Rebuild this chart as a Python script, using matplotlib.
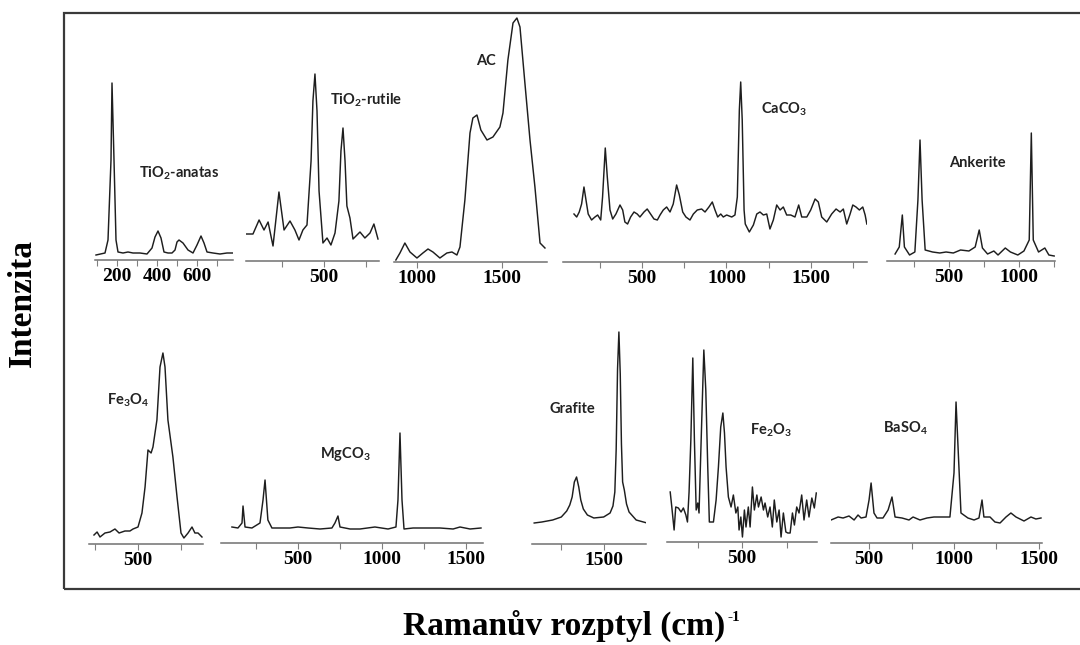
import numpy as np
import matplotlib
matplotlib.use("Agg")
import matplotlib.pyplot as plt
import matplotlib as mpl
from matplotlib.patches import Rectangle

mpl.rcParams['mathtext.fontset'] = 'custom'
mpl.rcParams['mathtext.rm'] = 'Lato:bold'
mpl.rcParams['mathtext.bf'] = 'Lato:bold'
mpl.rcParams['mathtext.default'] = 'rm'

# spectra: Raman shift (cm-1) and intensity (arb. units)
anatas_x = [95,140,155,170,175,185,195,205,230,255,280,315,350,375,390,405,420,435,455,475,490,500,510,530,555,580,600,620,635,650,680,715,750,780]
anatas_y = [5,7,20,100,177,100,20,8,7,8,7,7,6,12,23,29,22,8,7,7,10,18,20,17,10,7,15,24,17,8,7,6,7,7]

rutile_x = [41,82,118,147,171,200,235,265,300,329,353,376,400,424,435,447,459,471,494,518,541,565,588,600,612,624,635,653,671,712,741,771,794,818]
rutile_y = [27,27,41,31,39,15,69,31,40,31,21,31,36,100,160,187,150,70,18,23,16,28,60,110,133,100,55,43,22,29,23,28,37,22]

ac_x = [876,900,929,959,1000,1035,1065,1094,1135,1176,1206,1235,1253,1282,1312,1329,1353,1376,1412,1447,1488,1506,1535,1565,1588,1606,1635,1665,1694,1724,1753]
ac_y = [2,9,19,10,4,9,13,10,4,9,10,7,15,62,129,144,147,132,122,125,135,149,202,239,244,235,179,122,75,19,14]

caco3_x = [98,114,129,143,157,169,182,202,222,238,256,267,283,295,311,327,346,370,386,399,
           415,433,453,472,488,512,531,551,571,591,607,626,646,666,685,705,721,741,760,784,
           804,827,853,873,896,916,932,948,966,981,1001,1031,1050,1064,1076,1084,1093,1104,1111,1135,
           1159,1179,1198,1218,1238,1257,1277,1297,1317,1336,1356,1380,1405,1427,1445,1475,1498,1524,1543,1563,
           1593,1622,1648,1672,1691,1711,1731,1747,1766,1786,1806,1820,1830]
caco3_y = [48,45,50,58,75,62,48,42,45,47,42,65,114,85,52,43,48,57,52,40,
           38,45,50,48,45,50,53,48,43,42,47,52,55,50,58,77,67,50,45,42,
           48,52,53,50,55,60,52,45,48,45,47,45,47,65,152,180,142,52,38,30,
           37,48,50,47,48,33,42,57,52,55,47,47,45,57,45,45,52,63,60,45,
           40,48,53,50,53,38,48,57,55,52,55,47,38]

ankerite_x = [112,142,164,179,216,254,276,291,306,328,381,433,478,530,582,642,687,716,739,776,821,851,903,940,993,1037,1075,1090,1104,1142,1187,1216,1254]
ankerite_y = [7,14,46,14,6,9,61,121,61,11,9,8,9,8,11,10,14,31,13,7,10,6,13,9,6,10,21,128,21,9,13,6,5]

fe3o4_x = [244,262,279,308,337,366,390,424,453,471,500,523,541,558,576,587,610,628,645,657,674,703,727,750,767,791,814,831,849,872]
fe3o4_y = [9,12,7,11,12,15,11,13,13,15,17,31,57,94,91,97,124,177,191,177,124,87,47,11,6,11,17,11,11,7]

mgco3_x = [107,143,167,173,185,226,274,292,304,321,345,393,452,500,560,631,702,720,738,750,810,869,958,1036,1083,1095,1107,1119,1131,1185,1268,1345,1423,1464,1524,1589]
mgco3_y = [16,15,20,37,16,15,20,43,63,23,15,15,15,16,15,14,15,20,27,16,14,14,16,14,16,43,110,43,14,15,15,15,14,16,14,15]

grafite_x = [1090,1135,1199,1250,1282,1300,1314,1327,1340,1353,1365,1380,1404,1442,1500,1538,1555,1566,1574,1582,1590,1598,1605,1612,1622,1635,1650,1692,1756]
grafite_y = [21,22,24,27,33,39,47,62,67,57,44,35,29,26,27,31,38,52,95,175,212,170,100,62,54,40,32,24,21]

fe2o3_x = [96,105,118,127,142,157,170,184,193,202,212,223,232,242,251,258,270,285,296,307,
           316,339,354,367,380,392,401,410,423,438,451,465,476,483,493,502,513,522,535,545,
           558,569,583,592,607,620,629,644,657,670,681,695,708,719,732,746,757,770,783,794,
           807,820,835,848,863,876,892,906,917]
fe2o3_y = [50,35,12,35,34,30,34,27,20,50,102,184,102,32,39,29,102,192,152,75,
           20,20,42,75,115,129,109,75,45,35,47,29,35,12,25,5,32,15,35,15,
           55,32,47,35,45,32,39,25,35,15,42,20,32,5,29,10,9,9,29,17,
           35,29,47,22,42,25,44,34,49]

baso4_x = [276,318,347,382,412,435,453,482,500,512,529,547,582,612,635,653,694,735,759,800,841,882,924,976,1000,1012,1029,1041,1082,1118,1147,1165,1176,1212,1241,1271,1306,1335,1365,1412,1453,1482,1512]
baso4_y = [23,26,25,27,23,28,25,26,43,60,30,25,25,33,46,26,25,23,26,23,25,26,26,26,70,141,76,30,25,23,25,43,26,26,21,20,26,30,26,22,26,24,25]

names = ['TiO$_2$-anatas', 'TiO$_2$-rutile', 'AC', 'CaCO$_3$', 'Ankerite',
         'Fe$_3$O$_4$', 'MgCO$_3$', 'Grafite', 'Fe$_2$O$_3$', 'BaSO$_4$']

W, H = 1080, 645
fig = plt.figure(figsize=(W/100, H/100), dpi=100)
fig.patch.set_facecolor('white')

# layout in pixels: x0, x1, axis line y, xlim, ticks, labelled ticks, name position
panels = [
    (anatas_x, anatas_y, 95, 233, 260, (90, 780), range(100, 800, 100), [200, 400, 600], (179, 173)),
    (rutile_x, rutile_y, 246, 379, 261, (41, 824), [250, 500, 750], [500], (366, 100)),
    (ac_x, ac_y, 394, 547, 262, (865, 1765), [1000, 1500], [1000, 1500], (486, 61)),
    (caco3_x, caco3_y, 563, 867, 262, (33, 1831), range(250, 1800, 250), [500, 1000, 1500], (784, 109)),
    (ankerite_x, ankerite_y, 887, 1055, 261, (54, 1260), [250, 500, 750, 1000, 1250], [500, 1000], (977, 163)),
    (fe3o4_x, fe3o4_y, 89, 203, 544, (215, 878), [250, 500, 750], [500], (128, 400)),
    (mgco3_x, mgco3_y, 221, 483, 543, (42, 1601), range(250, 1600, 250), [500, 1000, 1500], (345, 454)),
    (grafite_x, grafite_y, 532, 646, 544, (1077, 1750), [1250, 1500], [1500], (572, 409)),
    (fe2o3_x, fe2o3_y, 667, 817, 542, (78, 921), [250, 500, 750], [500], (771, 430)),
    (baso4_x, baso4_y, 831, 1042, 543, (276, 1518), range(500, 1600, 250), [500, 1000, 1500], (905, 428)),
]

top = 250
for (xs, ys, x0, x1, ya, xlim, ticks, lab_ticks, npos), name in zip(panels, names):
    ax = fig.add_axes([x0/W, 1 - ya/H, (x1 - x0)/W, top/H])
    ax.plot(xs, ys, color='#1e1e1e', lw=1.05)
    ax.set_xlim(xlim)
    ax.set_ylim(0, top)
    ax.patch.set_alpha(0)
    for s in ['top', 'left', 'right']:
        ax.spines[s].set_visible(False)
    ax.spines['bottom'].set_color('#707070')
    ax.spines['bottom'].set_linewidth(1.1)
    ax.set_yticks([])
    ticks = list(ticks)
    ax.set_xticks(ticks)
    ax.set_xticklabels([str(t) if t in lab_ticks else '' for t in ticks],
                       fontsize=14, fontweight='bold', family='Liberation Serif')
    ax.tick_params(axis='x', direction='out', length=4, width=0.8, color='#808080', pad=2)
    fig.text(npos[0]/W, 1 - npos[1]/H, name, ha='center', va='center',
             fontsize=10.5, family='Lato', fontweight='bold', color='#222222')

# frame around the panels
fig.add_artist(Rectangle((64/W, 1 - 589/H), 1.2, (589 - 13)/H, transform=fig.transFigure,
                         fill=False, lw=1.6, ec='#3a3a3a'))

fig.text(22/W, 1 - 303/H, 'Intenzita', rotation=90, ha='center', va='center',
         fontsize=24, fontweight='bold', family='Liberation Serif')
fig.text(725/W, 1 - 635/H, 'Ramanův rozptyl (cm)', ha='right', va='baseline',
         fontsize=24, fontweight='bold', family='Liberation Serif')
fig.text(727/W, 1 - 621/H, '-1', ha='left', va='baseline',
         fontsize=11, fontweight='bold', family='Liberation Serif')

fig.savefig('out.png', dpi=100)
